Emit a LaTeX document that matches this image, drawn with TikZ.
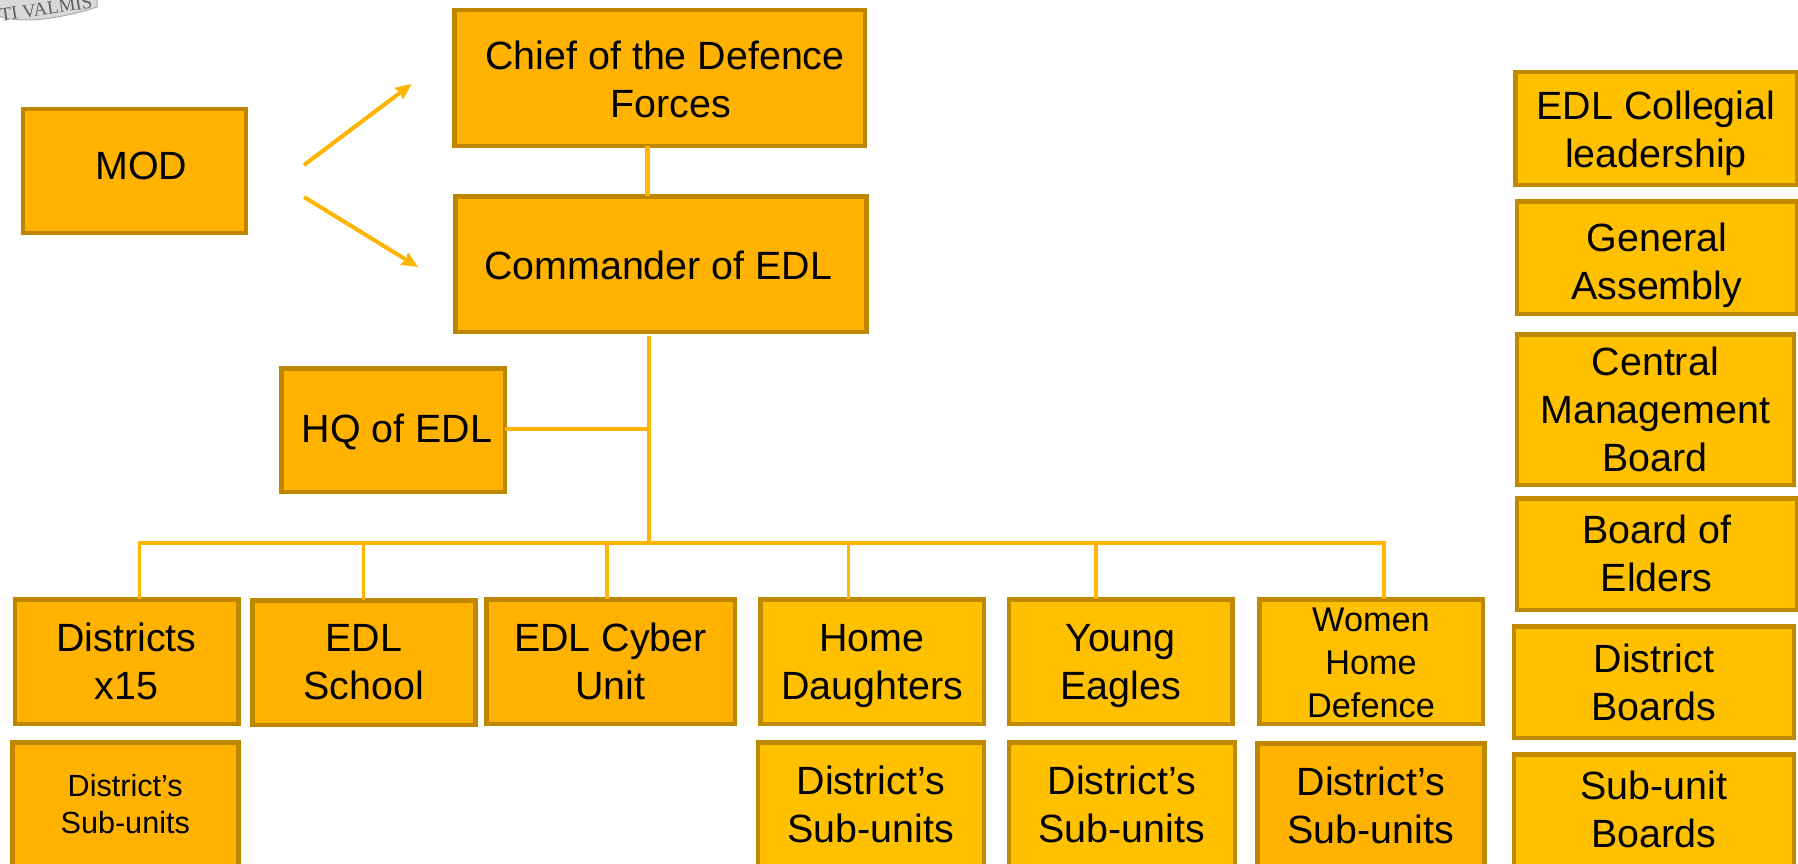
\documentclass[tikz,border=0pt]{standalone}
\usepackage{fontspec}
\setmainfont{Liberation Sans}
\newfontfamily\logofont{Liberation Serif}
\usetikzlibrary{arrows.meta}
\definecolor{fillA}{HTML}{FFB300}
\definecolor{fillB}{HTML}{FFC000}
\definecolor{edgeA}{HTML}{BF8600}
\definecolor{edgeB}{HTML}{BF8A00}
\definecolor{wire}{HTML}{FFB400}
\tikzset{
  x=1pt,y=-1pt,
  orgbox/.style={draw,line width=4.5pt,rectangle,inner sep=0pt,outer sep=0pt},
  boxA/.style={orgbox,fill=fillA,draw=edgeA},
  boxB/.style={orgbox,fill=fillB,draw=edgeB},
  txtL/.style={align=center,inner sep=0pt,font=\fontsize{39.4}{48}\selectfont,text=black},
  txtM/.style={align=center,inner sep=0pt,font=\fontsize{34.3}{42.7}\selectfont,text=black},
  txtS/.style={align=center,inner sep=0pt,font=\fontsize{30.6}{37}\selectfont,text=black},
  wireline/.style={draw=wire,line width=4.6pt},
  dropline/.style={draw=wire,line width=3.6pt},
  wirearrow/.style={draw=wire,line width=4pt,-{Stealth[length=16pt,width=14pt,inset=2pt]}},
}
% name, style, {x1,y1,x2,y2}, label style, dx, dy (down), text
\newcommand{\orgnode}[7]{%
  \orgparse#3\orgend
  \node (#1) [#2,minimum width=\orgW pt,minimum height=\orgH pt,
    label={[#4,xshift=#5pt,yshift={-1pt*(#6)}]center:#7}] at (\orgCX,\orgCY) {};}
\def\orgparse#1,#2,#3,#4\orgend{%
  \pgfmathsetmacro{\orgCX}{(#1+#3)/2}\pgfmathsetmacro{\orgCY}{(#2+#4)/2}%
  \pgfmathsetmacro{\orgW}{#3-#1-4.5}\pgfmathsetmacro{\orgH}{#4-#2-4.5}}
\begin{document}
\begin{tikzpicture}
\useasboundingbox (0,0) rectangle (1798,864);
% logo fragment
\fill[fill=gray!30,draw=gray!65,line width=1pt] (-5,15) .. controls (15,23) and (50,22) .. (97,7) -- (97,-5) -- (-5,-5) -- cycle;
\node (logo) [inner sep=0pt,rotate=8.5,text=gray!75!black,font=\logofont\fontsize{19}{20}\selectfont] at (46,8.5) {TI VALMIS};
% top of the tree
\orgnode{mod}{boxA}{20.7,107,248,235}{txtL}{7}{-5}{MOD}
\orgnode{chief}{boxA}{452,8,867,148}{txtL}{5.5}{1}{Chief of the Defence\\\hspace*{12pt}Forces}
\orgnode{cmd}{boxA}{453,194,868.5,334}{txtL}{-2.5}{1}{Commander of EDL}
\orgnode{hq}{boxA}{279,366,507,494}{txtL}{4}{2}{HQ of EDL}
% second row
\orgnode{dist}{boxA}{12.6,597,240.5,726}{txtL}{0}{0}{Districts\\x15}
\orgnode{school}{boxA}{250,598,477.6,727}{txtL}{0}{0}{EDL\\School}
\orgnode{cyber}{boxA}{484,597,737,726}{txtL}{0}{0}{EDL Cyber\\Unit}
\orgnode{daughters}{boxB}{758,597,986,726}{txtL}{0}{4.6}{Home\\Daughters}
\orgnode{eagles}{boxB}{1006.5,597,1234.5,726}{txtL}{0}{4.6}{Young\\Eagles}
\orgnode{women}{boxB}{1257,597,1485,726}{txtM}{0}{1.5}{Women\\Home\\Defence}
% third row
\orgnode{subA}{boxA}{10,740,240.5,880}{txtS}{0}{-5.7}{District’s\\Sub-units}
\orgnode{subB}{boxB}{755.5,740,986,880}{txtL}{0}{-6}{District’s\\Sub-units}
\orgnode{subC}{boxB}{1006.5,740,1237,880}{txtL}{0}{-6}{District’s\\Sub-units}
\orgnode{subD}{boxA}{1255,741,1486.5,880}{txtL}{0}{-5}{District’s\\Sub-units}
% right column
\orgnode{coll}{boxB}{1513,70,1799,187}{txtL}{0}{4.6}{EDL Collegial\\leadership}
\orgnode{assembly}{boxB}{1514.5,199,1799,316}{txtL}{0}{8}{General\\Assembly}
\orgnode{central}{boxB}{1514.5,332,1796,487}{txtL}{0}{0}{Central\\Management\\Board}
\orgnode{elders}{boxB}{1514.5,496,1799,612}{txtL}{0}{-1}{Board of\\Elders}
\orgnode{dboards}{boxB}{1511.7,624,1796,740}{txtL}{0}{0}{District\\Boards}
\orgnode{sboards}{boxB}{1511.7,752,1796,880}{txtL}{0}{-7}{Sub-unit\\Boards}
% named points of the wiring
\coordinate (a1s) at (304,165);
\coordinate (a1e) at (411.6,84);
\coordinate (a2s) at (304,197);
\coordinate (a2e) at (418,267);
\coordinate (link) at (647.5,170);
\coordinate (trunkTop) at (649,336);
\coordinate (hqJoin) at (649,429);
\coordinate (busJoin) at (649,543);
\coordinate (busL) at (139.5,543);
\coordinate (busS) at (363.4,543);
\coordinate (busC) at (607,543);
\coordinate (busD) at (848.5,543);
\coordinate (busE) at (1096,543);
\coordinate (busR) at (1384,543);
% wiring
\draw[wirearrow] (a1s) -- (a1e);
\draw[wirearrow] (a2s) -- (a2e);
\draw[wireline] (chief.south -| link) -- (cmd.north -| link);
\draw[wireline] (trunkTop) -- (busJoin);
\draw[wireline] (hq.east |- hqJoin) -- (hqJoin);
\draw[wireline,shorten <=-1.8pt,shorten >=-1.8pt] (busL) -- (busR);
\draw[dropline] (busL) -- (dist.north -| busL);
\draw[dropline] (busS) -- (school.north -| busS);
\draw[dropline] (busC) -- (cyber.north -| busC);
\draw[dropline] (busD) -- (daughters.north -| busD);
\draw[dropline] (busE) -- (eagles.north -| busE);
\draw[dropline] (busR) -- (women.north -| busR);
\end{tikzpicture}
\end{document}
